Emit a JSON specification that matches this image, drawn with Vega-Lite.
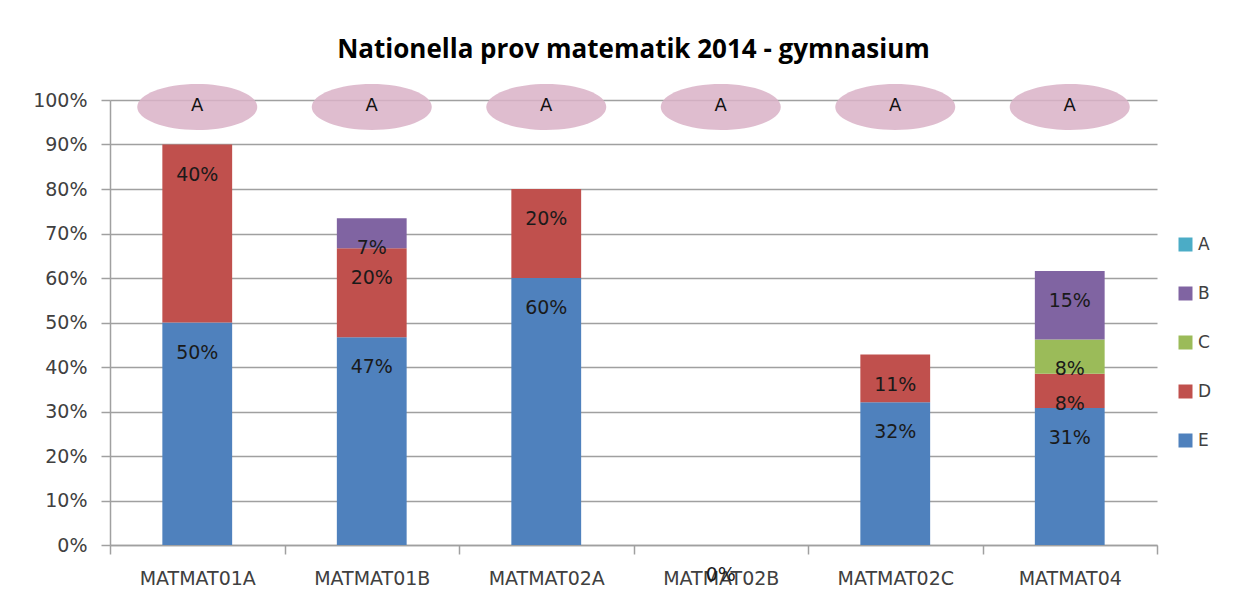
{
  "$schema": "https://vega.github.io/schema/vega-lite/v6.json",
  "width": 1047,
  "height": 445,
  "autosize": {"type": "none"},
  "padding": {"left": 110, "top": 100, "right": 96, "bottom": 63},
  "background": "white",
  "title": {
    "text": "Nationella prov matematik 2014 - gymnasium",
    "font": "Open Sans",
    "fontSize": 26,
    "fontWeight": "bold",
    "color": "#000000",
    "anchor": "middle",
    "offset": 21
  },
  "config": {"view": {"stroke": null}},
  "datasets": {
    "grades": [
      {"course": "MATMAT01A", "grade": "E", "value": 0.5},
      {"course": "MATMAT01A", "grade": "D", "value": 0.4},
      {"course": "MATMAT01B", "grade": "E", "value": 0.467},
      {"course": "MATMAT01B", "grade": "D", "value": 0.2},
      {"course": "MATMAT01B", "grade": "B", "value": 0.067},
      {"course": "MATMAT02A", "grade": "E", "value": 0.6},
      {"course": "MATMAT02A", "grade": "D", "value": 0.2},
      {"course": "MATMAT02B", "grade": "E", "value": 0},
      {"course": "MATMAT02C", "grade": "E", "value": 0.321},
      {"course": "MATMAT02C", "grade": "D", "value": 0.107},
      {"course": "MATMAT04", "grade": "E", "value": 0.308},
      {"course": "MATMAT04", "grade": "D", "value": 0.077},
      {"course": "MATMAT04", "grade": "C", "value": 0.077},
      {"course": "MATMAT04", "grade": "B", "value": 0.154}
    ],
    "marks": [
      {"course": "MATMAT01A", "label": "A"},
      {"course": "MATMAT01B", "label": "A"},
      {"course": "MATMAT02A", "label": "A"},
      {"course": "MATMAT02B", "label": "A"},
      {"course": "MATMAT02C", "label": "A"},
      {"course": "MATMAT04", "label": "A"}
    ]
  },
  "layer": [
    {
      "data": {"name": "grades"},
      "transform": [
        {"stack": "value", "groupby": ["course"], "sort": [{"field": "grade", "order": "descending"}], "as": ["v0", "v1"]}
      ],
      "mark": {"type": "bar", "width": {"band": 0.4}},
      "encoding": {
        "x": {
          "field": "course",
          "type": "nominal",
          "sort": null,
          "scale": {"paddingInner": 0, "paddingOuter": 0},
          "axis": {
            "title": null,
            "labelAngle": 0,
            "tickBand": "extent",
            "tickExtra": true,
            "tickSize": 9,
            "labelPadding": 15,
            "domainColor": "#a0a0a0",
            "tickColor": "#a0a0a0",
            "domainWidth": 1.5,
            "tickWidth": 1.5,
            "labelFont": "DejaVu Sans",
            "labelFontSize": 19,
            "labelColor": "#404040"
          }
        },
        "y": {
          "field": "v1",
          "type": "quantitative",
          "scale": {"domain": [0, 1]},
          "axis": {
            "title": null,
            "values": [0, 0.1, 0.2, 0.3, 0.4, 0.5, 0.6, 0.7, 0.8, 0.9, 1],
            "format": ".0%",
            "grid": true,
            "gridColor": "#a0a0a0",
            "gridWidth": 1.5,
            "tickSize": 9,
            "labelPadding": 14,
            "domainColor": "#a0a0a0",
            "tickColor": "#a0a0a0",
            "domainWidth": 1.5,
            "tickWidth": 1.5,
            "labelFont": "DejaVu Sans",
            "labelFontSize": 19,
            "labelColor": "#404040"
          }
        },
        "y2": {"field": "v0"},
        "color": {
          "field": "grade",
          "type": "nominal",
          "scale": {
            "domain": ["A", "B", "C", "D", "E"],
            "range": ["#4bacc6", "#8064a2", "#9bbb59", "#c0504d", "#4f81bd"]
          },
          "legend": {
            "orient": "none",
            "legendX": 1067,
            "legendY": 136,
            "title": null,
            "symbolType": "square",
            "symbolSize": 196,
            "symbolStrokeWidth": 0,
            "labelFont": "DejaVu Sans",
            "labelFontSize": 17,
            "labelColor": "#404040",
            "labelOffset": 4,
            "rowPadding": 31
          }
        }
      }
    },
    {
      "data": {"name": "grades"},
      "transform": [
        {"stack": "value", "groupby": ["course"], "sort": [{"field": "grade", "order": "descending"}], "as": ["v0", "v1"]}
      ],
      "mark": {"type": "text", "baseline": "middle", "dy": 30, "font": "DejaVu Sans", "fontSize": 19, "color": "#1a1a1a"},
      "encoding": {
        "x": {"field": "course", "type": "nominal", "sort": null},
        "y": {"field": "v1", "type": "quantitative"},
        "text": {"field": "value", "type": "quantitative", "format": ".0%"}
      }
    },
    {
      "data": {"name": "marks"},
      "mark": {
        "type": "point",
        "shape": "M-1,0A1,0.383,0,1,0,1,0A1,0.383,0,1,0,-1,0Z",
        "filled": true,
        "size": 14400,
        "fill": "#d9b2c7",
        "opacity": 0.85,
        "strokeWidth": 0
      },
      "encoding": {
        "x": {"field": "course", "type": "nominal", "sort": null},
        "y": {"datum": 1},
        "yOffset": {"value": 7}
      }
    },
    {
      "data": {"name": "marks"},
      "mark": {"type": "text", "baseline": "middle", "dy": 6, "font": "DejaVu Sans", "fontWeight": "normal", "fontSize": 18, "color": "#111111"},
      "encoding": {
        "x": {"field": "course", "type": "nominal", "sort": null},
        "y": {"datum": 1},
        "text": {"field": "label"}
      }
    }
  ]
}
